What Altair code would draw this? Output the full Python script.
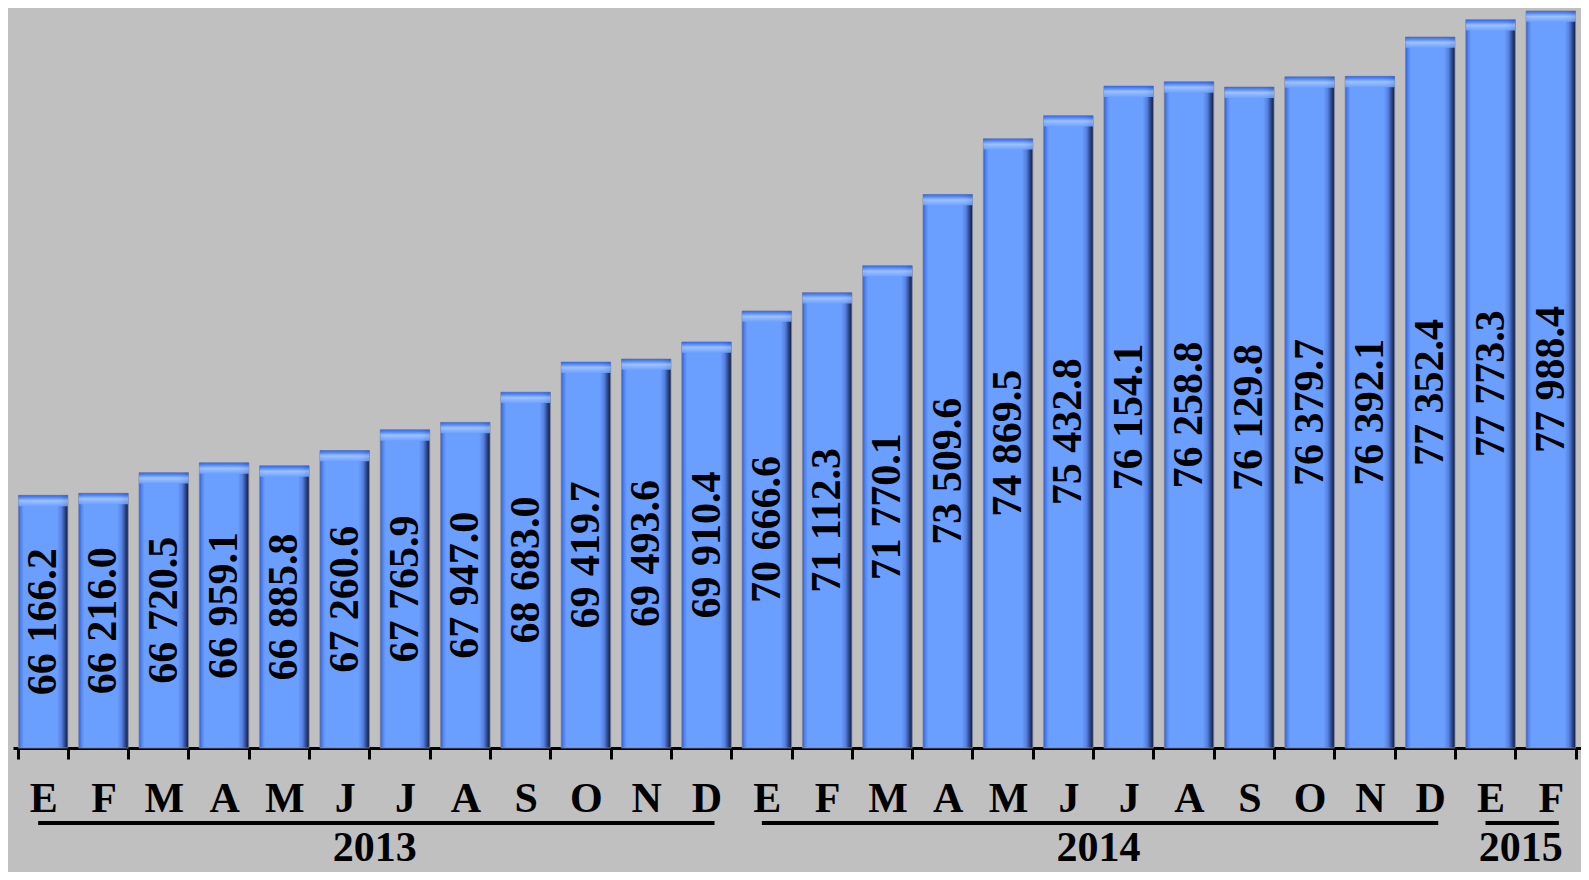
import altair as alt
import pandas as pd

# ---- data ----
months = ["E", "F", "M", "A", "M", "J", "J", "A", "S", "O", "N", "D",
          "E", "F", "M", "A", "M", "J", "J", "A", "S", "O", "N", "D",
          "E", "F"]
values = [66166.2, 66216.0, 66720.5, 66959.1, 66885.8, 67260.6, 67765.9, 67947.0,
          68683.0, 69419.7, 69493.6, 69910.4,
          70666.6, 71112.3, 71770.1, 73509.6, 74869.5, 75432.8, 76154.1, 76258.8,
          76129.8, 76379.7, 76392.1, 77352.4,
          77773.3, 77988.4]
year_names = ["2013", "2014", "2015"]
year_counts = [12, 12, 2]

Y_MIN = 60000
Y_MAX = 78060
CAP = 265  # bevel height in data units

FONT = "Liberation Serif"


def fmt(v):
    return f"{v:,.1f}".replace(",", " ")


df = pd.DataFrame({
    "key": [f"{m}|{i}" for i, m in enumerate(months)],
    "value": values,
    "label": [fmt(v) for v in values],
})
df["base"] = Y_MIN
df["mid"] = (df["value"] + Y_MIN) / 2
df["cap"] = df["value"] - CAP

ends = pd.Series(year_counts).cumsum()
ydf = pd.DataFrame({"year": year_names, "count": year_counts})
ydf["end"] = ends.values
ydf["start"] = ydf["end"] - ydf["count"]
ydf["x1"] = ydf["start"] + 0.5
ydf["x2"] = ydf["end"] - 0.5
ydf["center"] = (ydf["start"] + ydf["end"]) / 2

n = len(months)

xscale = alt.Scale(paddingInner=0.18, paddingOuter=0.09)
yscale = alt.Scale(domain=[Y_MIN, Y_MAX], zero=False, nice=False)

xaxis = alt.Axis(
    title=None,
    labelExpr="isString(datum.value) ? split(datum.value,'|')[0] : ''",
    labelAngle=0,
    labelFont=FONT,
    labelFontSize=42,
    labelFontWeight="bold",
    labelColor="black",
    labelPadding=19,
    labelOverlap=False,
    domainColor="black",
    domainWidth=3,
    tickColor="black",
    tickWidth=3,
    tickSize=11,
    tickBand="extent",
    grid=False,
)

main_grad = alt.Gradient(
    gradient="linear",
    x1=0, x2=1, y1=0, y2=0,
    stops=[
        alt.GradientStop(offset=0.0, color="#2E5BD6"),
        alt.GradientStop(offset=0.05, color="#4F84F2"),
        alt.GradientStop(offset=0.11, color="#6A9EFF"),
        alt.GradientStop(offset=0.78, color="#6A9EFF"),
        alt.GradientStop(offset=0.87, color="#5580E0"),
        alt.GradientStop(offset=0.94, color="#2B468C"),
        alt.GradientStop(offset=1.0, color="#121B38"),
    ],
)

cap_grad = alt.Gradient(
    gradient="linear",
    x1=0, x2=0, y1=0, y2=1,
    stops=[
        alt.GradientStop(offset=0.0, color="#2E62EA"),
        alt.GradientStop(offset=0.18, color="#4A80F6"),
        alt.GradientStop(offset=0.5, color="#A6C9FF"),
        alt.GradientStop(offset=1.0, color="#6FA2FF"),
    ],
)

base = alt.Chart(df)
xenc = alt.X("key:N", sort=None, scale=xscale, axis=xaxis)

bars = base.mark_bar(color=main_grad, stroke="#7C8296", strokeWidth=0.8).encode(
    x=xenc,
    y=alt.Y("value:Q", scale=yscale, axis=None),
    y2="base:Q",
)

caps = base.mark_bar(color=cap_grad, opacity=0.85).encode(
    x=xenc,
    y=alt.Y("value:Q", scale=yscale, axis=None),
    y2="cap:Q",
)

labels = base.mark_text(
    angle=270, align="center", baseline="middle",
    font=FONT, fontSize=42, fontWeight="bold", color="black",
).encode(
    x=xenc,
    y=alt.Y("mid:Q", scale=yscale, axis=None),
    text="label:N",
)

inner = alt.layer(bars, caps, labels)

qx = alt.Scale(domain=[0, n], zero=False, nice=False)

year_rules = alt.Chart(ydf).mark_rule(
    color="black", strokeWidth=4, xOffset=-5, x2Offset=8
).encode(
    x=alt.X("x1:Q", scale=qx, axis=None),
    x2="x2:Q",
    y=alt.value(815),
)

year_text = alt.Chart(ydf).mark_text(
    font=FONT, fontSize=42, fontWeight="bold", color="black",
    align="center", baseline="alphabetic",
).encode(
    x=alt.X("center:Q", scale=qx, axis=None),
    y=alt.value(853),
    text="year:N",
)

chart = alt.layer(inner, year_rules, year_text).resolve_scale(
    x="independent"
).properties(
    width=1568,
    height=740,
    background="#C0C0C0",
    padding={"left": 5, "top": 0, "right": 0, "bottom": 124},
    autosize=alt.AutoSizeParams(type="none"),
).configure_view(stroke=None)

chart.save("out.html", embed_options={"renderer": "svg", "actions": False})
